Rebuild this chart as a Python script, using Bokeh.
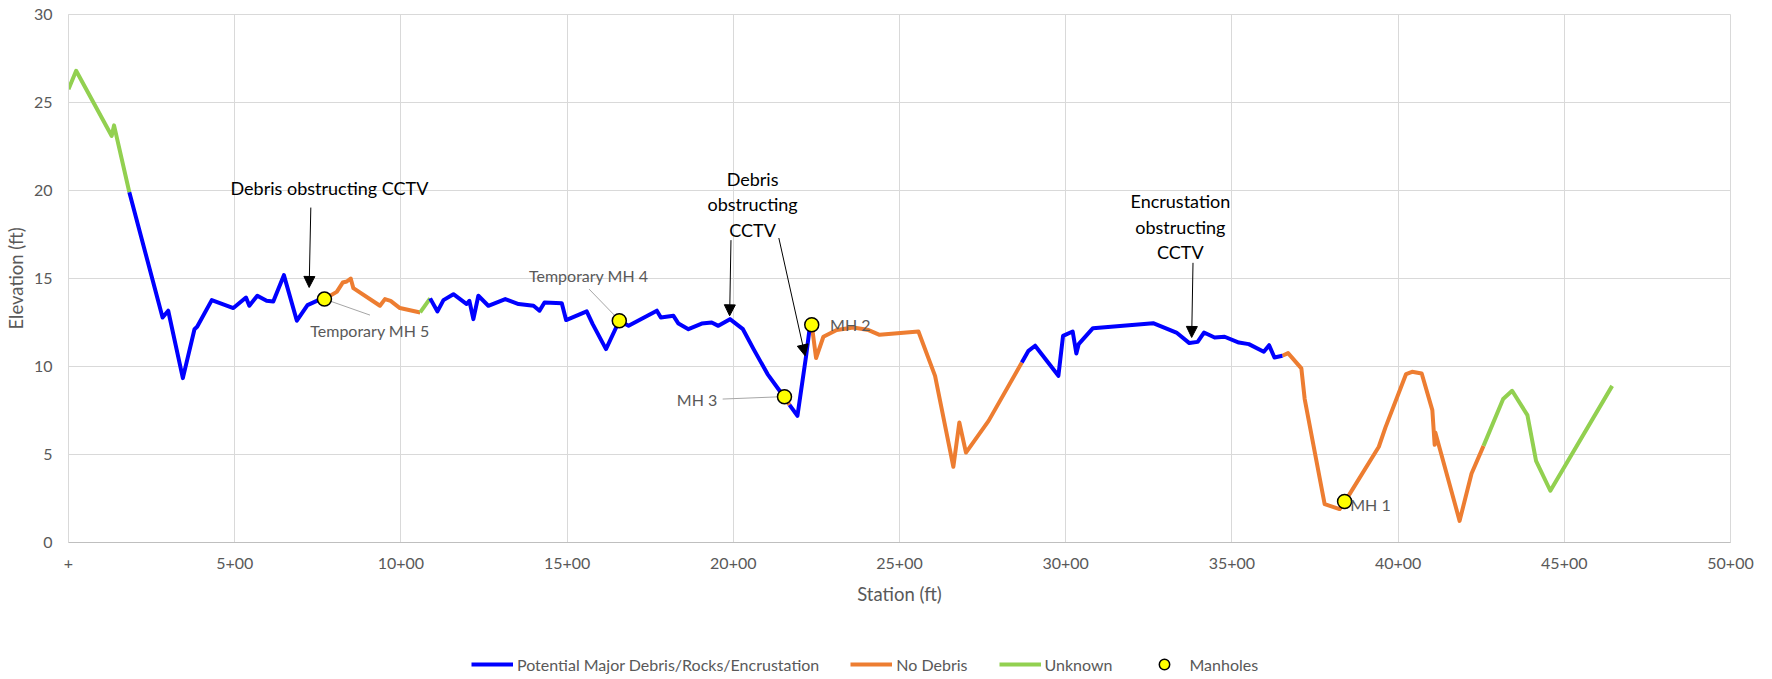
from bokeh.plotting import figure
from bokeh.layouts import column
from bokeh.models import (Range1d, FixedTicker, Legend, LegendItem, Arrow, NormalHead,
                          ColumnDataSource)
from bokeh.core.properties import value
from bokeh.embed import file_html
from bokeh.resources import INLINE

# ---------------- data ----------------
stations = [0, 23, 130, 137, 183, 283, 300, 344, 379, 387, 431, 496, 534, 544, 568, 596, 616, 648,
            687, 719, 752, 770, 807, 825, 837, 849, 857, 937, 952, 969, 997, 1058, 1088, 1110, 1128,
            1158, 1198, 1206, 1218, 1233, 1263, 1314, 1354, 1399, 1417, 1432, 1484, 1497, 1559, 1577,
            1617, 1657, 1685, 1770, 1782, 1820, 1835, 1865, 1905, 1935, 1955, 1990, 2029, 2061, 2103,
            2141, 2154, 2169, 2193, 2219, 2229, 2236, 2249, 2271, 2311, 2361, 2407, 2440, 2557, 2607,
            2662, 2680, 2700, 2768, 2868, 2888, 2908, 2978, 2992, 3021, 3032, 3039, 3082, 3263, 3333,
            3372, 3397, 3416, 3448, 3478, 3521, 3551, 3596, 3612, 3628, 3652, 3669, 3709, 3719, 3779,
            3824, 3839, 3854, 3942, 3962, 4024, 4042, 4071, 4103, 4110, 4112, 4185, 4221, 4257, 4316,
            4343, 4389, 4415, 4458, 4644]
elevations = [25.76, 26.8, 23.1, 23.7, 19.9, 12.78, 13.17, 9.34, 12.12, 12.26, 13.77, 13.32, 13.92,
              13.45, 14.02, 13.73, 13.69, 15.19, 12.6, 13.49, 13.77, 13.83, 14.24, 14.77, 14.83, 15.0,
              14.45, 13.45, 13.83, 13.73, 13.32, 13.07, 13.87, 13.13, 13.77, 14.11, 13.55, 13.73,
              12.69, 14.02, 13.45, 13.83, 13.55, 13.45, 13.17, 13.64, 13.6, 12.64, 13.13, 12.41,
              10.99, 12.6, 12.31, 13.17, 12.78, 12.88, 12.44, 12.12, 12.44, 12.5, 12.31, 12.69,
              12.12, 10.99, 9.57, 8.58, 8.28, 7.82, 7.2, 10.6, 12.07, 12.37, 10.48, 11.69, 12.07,
              12.22, 12.07, 11.8, 11.99, 9.47, 4.3, 6.82, 5.11, 6.91, 10.23, 10.89, 11.18, 9.47,
              11.74, 11.99, 10.74, 11.27, 12.18, 12.46, 11.93, 11.33, 11.4, 11.93, 11.65, 11.69,
              11.36, 11.27, 10.84, 11.21, 10.51, 10.61, 10.76, 9.89, 8.15, 2.18, 1.9, 2.33, 2.75,
              5.44, 6.54, 9.57, 9.7, 9.6, 7.52, 5.55, 6.25, 1.23, 3.92, 5.49, 8.15, 8.62, 7.24,
              4.64, 2.94, 8.9]

condition_breaks = [0, 183, 770, 1058, 1088, 2154, 2169, 2236, 2868, 3652, 4257, 4644]
condition_codes = ["U", "B", "N", "U", "B", "N", "B", "N", "B", "N", "U"]
condition_order = ["B", "N", "U"]
condition_names = {"B": "Potential Major Debris/Rocks/Encrustation", "N": "No Debris", "U": "Unknown"}
condition_colors = {"B": "#0000FF", "N": "#ED7D31", "U": "#92D050"}

manhole_names = ["Temporary MH 5", "Temporary MH 4", "MH 3", "MH 2", "MH 1"]
manhole_station = [770, 1657, 2154, 2236, 3839]
manhole_elev = [13.83, 12.6, 8.28, 12.37, 2.33]
mh_label_x = [907, 1565, 1891, 2291, 3856]
mh_label_y = [12.07, 15.15, 8.15, 12.41, 2.18]
mh_label_align = ["center", "center", "center", "left", "left"]
leader_x0 = [770, 1566, 1968]
leader_y0 = [13.83, 14.4, 8.15]
leader_x1 = [907, 1644, 2141]
leader_y1 = [12.92, 12.88, 8.28]

callout_text = ["Debris obstructing CCTV", "Debris\nobstructing\nCCTV", "Encrustation\nobstructing\nCCTV"]
callout_x = [785, 2058, 3345]
callout_y = [20.15, 19.23, 17.94]
arrow_x0 = [729, 1993, 2137, 3383]
arrow_y0 = [19.03, 17.18, 17.3, 15.89]
arrow_x1 = [724, 1989, 2216, 3379]
arrow_y1 = [14.49, 12.88, 10.61, 11.65]

x_ticks = [0, 500, 1000, 1500, 2000, 2500, 3000, 3500, 4000, 4500, 5000]
x_tick_labels = ["+", "5+00", "10+00", "15+00", "20+00", "25+00", "30+00", "35+00", "40+00",
                 "45+00", "50+00"]
y_ticks = [0, 5, 10, 15, 20, 25, 30]

FONT = "Lato"
GREY = "#595959"
LINE_W = 4
MH_STYLE = dict(marker="circle", fill_color="#FFFF00", line_color="black", line_width=1.5)

# ---------------- main figure ----------------
p = figure(width=1772, height=614, output_backend="svg", toolbar_location=None,
           x_range=Range1d(0, 5000), y_range=Range1d(0, 30),
           min_border_left=68, min_border_right=42, min_border_top=14, min_border_bottom=72)
p.outline_line_color = "#D9D9D9"
p.background_fill_color = "white"
p.border_fill_color = "white"

for ax in (p.xaxis[0], p.yaxis[0]):
    ax.major_tick_line_color = None
    ax.minor_tick_line_color = None
    ax.major_tick_out = 0
    ax.major_tick_in = 0
    ax.minor_tick_out = 0
    ax.minor_tick_in = 0
    ax.major_label_text_font = FONT
    ax.major_label_text_font_size = "16px"
    ax.major_label_text_color = GREY
    ax.axis_label_text_font = FONT
    ax.axis_label_text_font_size = "18.5px"
    ax.axis_label_text_color = GREY
    ax.axis_label_text_font_style = "normal"

p.xaxis.ticker = FixedTicker(ticks=x_ticks)
p.xaxis.major_label_overrides = {t: l for t, l in zip(x_ticks, x_tick_labels)}
p.xaxis.axis_label = "Station (ft)"
p.xaxis.axis_line_color = "#BFBFBF"
p.xaxis.major_label_standoff = 15
p.xaxis.axis_label_standoff = 11

p.yaxis.ticker = FixedTicker(ticks=y_ticks)
p.yaxis.axis_label = "Elevation (ft)"
p.yaxis.axis_line_color = "#D9D9D9"
p.yaxis.major_label_standoff = 16
p.yaxis.axis_label_standoff = 4

p.xgrid.ticker = FixedTicker(ticks=x_ticks)
p.ygrid.ticker = FixedTicker(ticks=y_ticks)
p.grid.grid_line_color = "#D9D9D9"
p.grid.grid_line_width = 1

# profile lines, split by condition
segs = {c: ([], []) for c in condition_order}
for i, code in enumerate(condition_codes):
    a, b = condition_breaks[i], condition_breaks[i + 1]
    segs[code][0].append([s for s in stations if a <= s <= b])
    segs[code][1].append([e for s, e in zip(stations, elevations) if a <= s <= b])

for code in ["N", "U", "B"]:
    p.multi_line(xs=segs[code][0], ys=segs[code][1], line_color=condition_colors[code],
                 line_width=LINE_W, line_join="round")

# leader lines
p.segment(x0=leader_x0, y0=leader_y0, x1=leader_x1, y1=leader_y1, line_color="#A6A6A6", line_width=1)

# arrows
arrow_src = ColumnDataSource(dict(x0=arrow_x0, y0=arrow_y0, x1=arrow_x1, y1=arrow_y1))
p.add_layout(Arrow(end=NormalHead(size=11, fill_color="black", line_color="black", line_width=1),
                   x_start="x0", y_start="y0", x_end="x1", y_end="y1", source=arrow_src,
                   line_color="black", line_width=1))

# manholes
p.scatter(x=manhole_station, y=manhole_elev, size=14, **MH_STYLE)

# manhole labels
p.text(x=mh_label_x, y=mh_label_y, text=manhole_names, text_align=mh_label_align,
       text_baseline="middle", text_font=value(FONT), text_font_size="16px", text_color=GREY)

# callouts
p.text(x=callout_x, y=callout_y, text=callout_text, text_align="center", text_baseline="middle",
       text_font=value(FONT), text_font_size="18px", text_color="black", text_line_height=1.16)

# ---------------- legend strip (same series, drawn outside its visible range) ----------------
lf = figure(width=1772, height=65, output_backend="svg", toolbar_location=None,
            x_range=Range1d(-2, -1), y_range=Range1d(-2, -1), x_axis_location=None,
            y_axis_location=None, min_border_left=0, min_border_right=0, min_border_top=0,
            min_border_bottom=0)
lf.outline_line_color = None
lf.grid.visible = False
items = []
for code in condition_order:
    r = lf.multi_line(xs=segs[code][0], ys=segs[code][1], line_color=condition_colors[code],
                      line_width=LINE_W)
    items.append(LegendItem(label=condition_names[code], renderers=[r]))
r_mh = lf.scatter(x=manhole_station, y=manhole_elev, size=14, **MH_STYLE)
items.append(LegendItem(label="Manholes", renderers=[r_mh]))

legend = Legend(items=items, location=(403, 2), orientation="horizontal", glyph_width=42,
                glyph_height=26, label_standoff=4, spacing=31, padding=0, margin=0,
                border_line_color=None, background_fill_alpha=0, label_text_font=FONT,
                label_text_font_size="16px", label_text_color=GREY)
lf.add_layout(legend)

layout = column(p, lf, spacing=0)
open("out.html", "w").write(file_html(layout, INLINE))
